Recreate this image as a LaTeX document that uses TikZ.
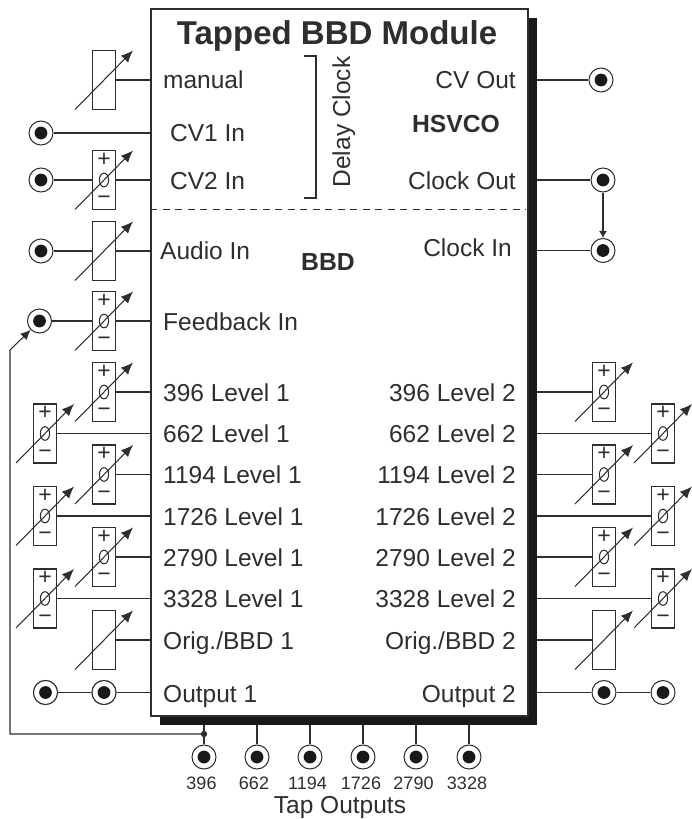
\documentclass[tikz,border=0pt]{standalone}
\usepackage{fontspec}
\setmainfont{Liberation Sans}
\usetikzlibrary{arrows.meta,calc}
\definecolor{ink}{HTML}{2E2E2E}
\tikzset{
  wire/.style={draw=ink,line width=1.05pt},
  jack/.style={circle,draw=ink,fill=white,line width=1.05pt,minimum size=24pt,inner sep=0pt,
    path picture={\fill[black!90] (path picture bounding box.center) circle (6.4pt);}},
  potbox/.style={rectangle,draw=ink,fill=white,line width=1.05pt,minimum width=23.5pt,minimum height=59pt,inner sep=0pt},
  wiper/.style={draw=ink,line width=1.05pt,-{Latex[length=12pt,width=10pt]}},
  sign/.style={font=\fontsize{23}{23}\selectfont,text=ink,inner sep=0pt},
  lbl/.style={font=\fontsize{24.5}{28}\selectfont,text=ink,inner sep=0pt},
  lleft/.style={lbl,anchor=base west},
  lright/.style={lbl,anchor=base east},
  bold/.style={font=\fontsize{24.7}{28}\bfseries\selectfont,text=ink,inner sep=0pt,anchor=base},
  tap/.style={font=\fontsize{18}{20}\selectfont,text=ink,inner sep=0pt,anchor=base},
}
\newcommand{\potplain}[3]{%
  \node[potbox] (#1) at (#2,#3) {};
  \draw[wiper] ($(#1.center)+(-29,29.5)$) -- ($(#1.center)+(29,-29.5)$);
}
\newcommand{\potbip}[3]{%
  \node[potbox] (#1) at (#2,#3) {};
  \node[sign] (#1p) at ($(#1.center)+(0,-20.5)$) {+};
  \node[sign] (#1m) at ($(#1.center)+(0,20.5)$) {−};
  \draw[ink,line width=1.05pt] (#1.center) ellipse (4.6pt and 6.8pt);
  \draw[wiper] ($(#1.center)+(-29,29.5)$) -- ($(#1.center)+(29,-29.5)$);
}
\begin{document}
\begin{tikzpicture}[x=1pt,y=-1pt]
\useasboundingbox (0,0) rectangle (691,819);
% shadow and module
\node[rectangle,fill=black!90,minimum width=377pt,minimum height=707pt,inner sep=0pt] (shadow) at (348.5,371.5) {};
\node[rectangle,draw=ink,fill=white,line width=1.05pt,minimum width=377pt,minimum height=707pt,inner sep=0pt] (box) at (339.5,362.5) {};
\coordinate (dL) at (150,209.5);
\coordinate (dR) at (526,209.5);
\draw[ink,line width=1pt,dash pattern=on 7pt off 5.5pt] (dL) -- (dR);
% title and headings
\node[font=\fontsize{33}{36}\bfseries\selectfont,text=ink,inner sep=0pt,anchor=base] (title) at (337,44) {Tapped BBD Module};
\node[bold] (hsvco) at (456,132) {HSVCO};
\node[bold] (bbd) at (328,270) {BBD};
% bracket
\coordinate (b1) at (304,56);
\coordinate (b2) at (316,56);
\coordinate (b3) at (316,198);
\coordinate (b4) at (304,198);
\draw[ink,line width=1.05pt] (b1) -- (b2) -- (b3) -- (b4);
\node[lbl,rotate=90,anchor=base] (delay) at (350,122) {Delay Clock};
% left column labels
\node[lleft] (lmanual) at (163,88) {manual};
\node[lleft] (lcv1) at (170,141) {CV1 In};
\node[lleft] (lcv2) at (170,189) {CV2 In};
\node[lleft] (laudio) at (160,259) {Audio In};
\node[lleft] (lfb) at (163,330) {Feedback In};
\node[lleft] (la1) at (163,401) {396 Level 1};
\node[lleft] (la2) at (163,442) {662 Level 1};
\node[lleft] (la3) at (163,483) {1194 Level 1};
\node[lleft] (la4) at (163,525) {1726 Level 1};
\node[lleft] (la5) at (163,566) {2790 Level 1};
\node[lleft] (la6) at (163,607) {3328 Level 1};
\node[lleft] (la7) at (163,649) {Orig./BBD 1};
\node[lleft] (la8) at (163,702) {Output 1};
% right column labels
\node[lright] (rcv) at (516,88) {CV Out};
\node[lright] (rclk) at (516,189) {Clock Out};
\node[lright] (rin) at (512,256) {Clock In};
\node[lright] (ra1) at (516,401) {396 Level 2};
\node[lright] (ra2) at (516,442) {662 Level 2};
\node[lright] (ra3) at (516,483) {1194 Level 2};
\node[lright] (ra4) at (516,525) {1726 Level 2};
\node[lright] (ra5) at (516,566) {2790 Level 2};
\node[lright] (ra6) at (516,607) {3328 Level 2};
\node[lright] (ra7) at (516,649) {Orig./BBD 2};
\node[lright] (ra8) at (516,702) {Output 2};
% left jacks and pots
\node[jack] (jcv1) at (41,133) {};
\node[jack] (jcv2) at (41,180) {};
\node[jack] (jaud) at (41,251) {};
\node[jack] (jfb) at (39.5,321) {};
\node[jack] (jo1a) at (45.5,692.5) {};
\node[jack] (jo1b) at (104,692.5) {};
\draw[wire] (jcv1.east) -- (box.west |- jcv1.east);
\draw[wire] (jcv2.east) -- (box.west |- jcv2.east);
\draw[wire] (jaud.east) -- (box.west |- jaud.east);
\draw[wire] (jfb.east) -- (box.west |- jfb.east);
\draw[wire] (jo1a) -- (jo1b);
\draw[wire] (jo1b) -- (box.west |- jo1b);
\node[jack] at (jo1a) {};
\node[jack] at (jo1b) {};
\potplain{pman}{104}{80}
\draw[wire] (pman.east) -- (box.west |- pman.east);
\potbip{pcv2}{104}{180}
\potplain{paud}{104}{251}
\potbip{pfb}{104}{321}
\foreach \n/\x/\y in {l1/104/392,l2/45/433.5,l3/104/474.5,l4/45/516,l5/104/557,l6/45/598.5}{
  \draw[wire] (\x,\y) -- (box.west |- 0,\y);
  \potbip{\n}{\x}{\y}
}
\potplain{l7}{104}{640}
\draw[wire] (l7.east) -- (box.west |- l7.east);
% right jacks and pots
\node[jack] (jcvo) at (601,80) {};
\node[jack] (jclko) at (603,180) {};
\node[jack] (jclki) at (603,250.5) {};
\node[jack] (jo2a) at (604,692.5) {};
\node[jack] (jo2b) at (663,692.5) {};
\draw[wire] (shadow.east |- jcvo) -- (jcvo.west);
\draw[wire] (shadow.east |- jclko) -- (jclko.west);
\draw[wire] (shadow.east |- jclki) -- (jclki.west);
\draw[wire] (shadow.east |- jo2a) -- (jo2a.west);
\draw[wire] (jo2a.east) -- (jo2b.west);
\draw[draw=ink,line width=1.05pt,-{Latex[length=7pt,width=8pt]}] (jclko.south) -- (jclki.north);
\foreach \n/\x/\y in {r1/604/392,r2/663/433.5,r3/604/474.5,r4/663/516,r5/604/557,r6/663/598.5}{
  \draw[wire] (shadow.east |- 0,\y) -- (\x,\y);
  \potbip{\n}{\x}{\y}
}
\potplain{r7}{604}{640}
\draw[wire] (shadow.east |- r7) -- (r7.west);
% tap outputs
\foreach \n/\x in {a/204,b/257,c/310,d/363,e/416,f/469}{
  \node[jack] (t\n) at (\x,757) {};
  \draw[wire] (shadow.south -| t\n) -- (t\n.north);
}
\node[tap] (t396) at (201.5,789) {396};
\node[tap] (t662) at (254,789) {662};
\node[tap] (t1194) at (307.5,789) {1194};
\node[tap] (t1726) at (361,789) {1726};
\node[tap] (t2790) at (413.5,789) {2790};
\node[tap] (t3328) at (467,789) {3328};
\node[lbl,anchor=base] (tapout) at (340,813.8) {Tap Outputs};
% feedback patch
\coordinate (fbdot) at (204,734);
\coordinate (fbc) at (10,734);
\coordinate (fbu) at (10,350);
\fill[ink] (fbdot) circle (3.2pt);
\draw[draw=ink,line width=1.05pt,-{Latex[length=10pt,width=9pt]}] (fbdot) -- (fbc) -- (fbu) -- (jfb.south west);
\end{tikzpicture}
\end{document}
